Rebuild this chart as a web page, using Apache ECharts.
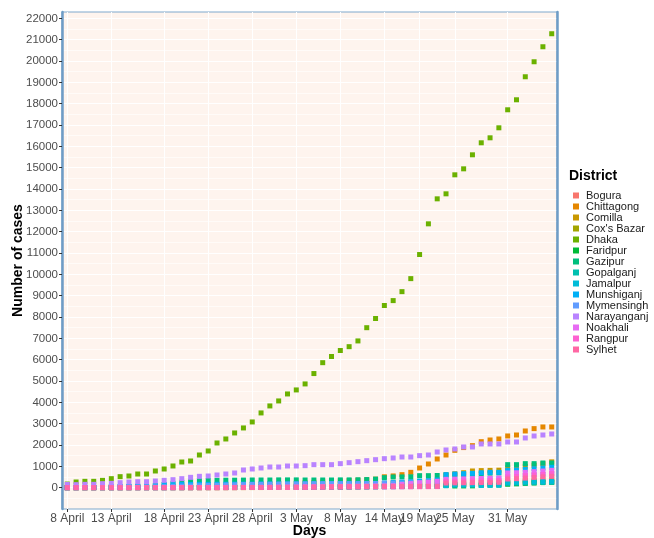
<!DOCTYPE html>
<html><head><meta charset="utf-8">
<script src="https://cdn.jsdelivr.net/npm/echarts@6/dist/echarts.min.js"></script>
<style>html,body{margin:0;padding:0;background:#fff}#c{width:654px;height:538px}</style>
</head><body><div id="c"></div>
<script>
// ---- data ----
const districts = ['Bogura','Chittagong','Comilla',"Cox's Bazar",'Dhaka','Faridpur','Gazipur','Gopalganj','Jamalpur','Munshiganj','Mymensingh','Narayanganj','Noakhali','Rangpur','Sylhet'];
const xTickIdx = [0,5,11,16,21,26,31,36,40,44,50];
const xTickLabels = ['8 April','13 April','18 April','23 April','28 April','3 May','8 May','14 May','19 May','25 May','31 May'];
const yTicks = [0,1000,2000,3000,4000,5000,6000,7000,8000,9000,10000,11000,12000,13000,14000,15000,16000,17000,18000,19000,20000,21000,22000];

const bogura = [0,0,0,0,0,0,0,0,1,1, 1,1,2,2,3,3,5,5,6,8, 8,10,12,15,18,20,25,30,35,40, 45,50,55,60,65,70,80,90,100,110, 120,120,125, 140,150,160,170,180,190,200, 230,240,250,260,270,280];
const chittagong = [10,12,14,15,20,25,30,35,40,45, 50,55,60,70,80,90,100,110,120,130, 140,150,160,175,190,200,215,230,250,270, 290,310,330,350,370,400,510,550,610,719, 922,1110,1345,1532,1751,1880,1970,2157,2235,2283, 2424,2470,2658,2768,2846,2846];
const comilla = [0,0,1,1,2,3,4,5,6,8, 10,12,14,16,18,20,25,30,35,40, 45,50,55,60,70,80,90,100,110,120, 130,140,150,160,170,180,200,220,240,260, 280,300,330, 600,650,700,782,800,810,820, 930,960,1000,1050,1120,1210];
const coxsBazar = [0,0,0,0,0,0,0,0,0,0, 1,1,1,1,1,2,2,2,3,3, 4,5,6,8,10,12,14,16,18,20, 25,30,35,40,45,50,60,70,80,90, 100,110,120,140,160,180,200,220,240,260, 300,320,340,360,380,400];
const dhaka = [170,267,297,297,343,422,516,547,641,641, 782,876,1017,1204,1251,1532,1720,2095,2283,2565, 2800,3081,3504,3832,4066,4394,4582,4864,5350,5860, 6150,6430,6610,6880,7500,7930,8540,8770,9190,9800, 10930,12369,13541,13776,14667,14948,15605,16168,16402,16871, 17716,18185,19264,19967,20671,21281];
const faridpur = [0,0,0,0,0,0,0,0,0,0, 1,1,1,2,2,3,3,4,5,6, 8,10,12,14,16,18,20,22,25,28, 30,32,35,38,40,45,50,52,55,58, 60,62,65, 100,80,82,85,120,125,130, 160,180,200,220,240,250];
const gazipur = [5,8,10,15,20,30,40,50,60,80,100, 150,203,250,297,328,340,344,350,350,355, 360,360,360,365,365,365,360,360,360,360, 365,365,370,380,400,469,500,505,510,563, 563,570,590,600,610,630,650,680,690, 1079,1079,1126,1126,1157,1157];
const gopalganj = [0,0,0,0,0,1,1,1,2,2, 3,3,4,5,6,8,10,12,14,16, 18,20,22,24,26,28,30,32,34,36, 38,40,42,44,46,48,50,52,54,56, 58,60,62, 100,130,130,135,115,120,125, 200,210,220,230,240,250];
const jamalpur = [0,0,0,0,0,0,0,1,1,1, 2,2,3,3,4,5,6,8,10,12, 14,16,18,20,22,24,26,28,30,32, 34,36,38,40,42,44,46,48,50,52, 54,56,58, 94,125,125,130,110,115,120, 250,262,275,285,290,297];
const munshiganj = [10,15,20,25,30,40,50,60,70,80,90, 140,145,150,150,155,155,160,160,165,165,165,170,170,170,175,175, 175,180,180,180,185,185,185,190,190, 220,240,260,280,310,330,360, 610,641,657,673,700,719,719, 813,830,860,890,920,953];
const mymensingh = [5,5,8,10,12,15,20,25,30,35, 40,50,60,70,80,90,100,110,120,130, 140,150,155,160,165,170,175, 180,185,188,188,190,190,192,195,195, 200,210,220,230,240,250,260, 380,390,400,410,420,430,440, 550,570,590,610,630,650];
const narayanganj = [150,141,156,156,188,203,234,266,281,281, 313,344,375,422,485,532,547,594,641,688, 829,876,923,969,969,1016,1016,1032,1079,1079, 1079,1126,1172,1219,1266,1313,1360,1392,1438,1438, 1501,1532,1673,1767,1814,1908,1908,2049,2049,2049, 2143,2143,2330,2423,2470,2517];
const noakhali = [0,0,0,0,0,0,0,0,1,1, 2,2,3,4,5,6,8,10,12,14, 16,18,20,22,25,28,30, 40,45,50,55,60,65,70,75,80,85,90, 150,190,230,260,297, 391,400,410,420,430,440,450, 688,700,720,750,780,813];
const rangpur = [0,0,0,0,0,0,0,0,0,0, 1,1,1,2,2,3,3,4,5,6, 7,8,9,10,12,14,16,18,20,22, 24,26,28,30,32,34,36,38,40,42, 45,48,50, 300,305,310,315,320,330,340, 501,520,560,590,620,657];
const sylhet = [0,0,0,0,0,0,0,0,0,0, 0,0,0,0,0,0,0,0,0,0, 5,8,10,12,15,18,20,25,30,35, 40,45,50,52,55,58,60,60,62,62, 63,63,63, 219,225,230,235,240,245,250, 407,420,450,480,510,532];

const seriesValues = [bogura, chittagong, comilla, coxsBazar, dhaka, faridpur, gazipur, gopalganj, jamalpur, munshiganj, mymensingh, narayanganj, noakhali, rangpur, sylhet];
const palette = ['#F8766D','#E58700','#C99800','#A3A500','#6BB100','#00BA38','#00BF7D','#00C0AF','#00BCD8','#00B0F6','#619CFF','#B983FF','#E76BF3','#FD61D1','#FF67A4'];

// ---- chart ----
const FONT = '"Liberation Sans", Arial, Helvetica, sans-serif';
const chart = echarts.init(document.getElementById('c'), null, {renderer: 'canvas'});
const minorTicks = yTicks.map(v => v - 500).filter(v => v > -1000 && v < 22300);
const borderBlue = '#7FA8CC';

chart.setOption({
  animation: false,
  backgroundColor: '#ffffff',
  textStyle: {fontFamily: FONT},
  grid: {left: 62, right: 97, top: 12, bottom: 29, show: true, backgroundColor: '#FEF4EE', borderColor: borderBlue, borderWidth: 1, containLabel: false, outerBoundsMode: 'none'},
  xAxis: {
    type: 'value', min: -0.6, max: 55.6,
    name: 'Days', nameLocation: 'middle', nameGap: 15, nameMoveOverlap: false,
    nameTextStyle: {fontFamily: FONT, fontSize: 14, fontWeight: 'bold', color: '#000'},
    axisLine: {show: false, onZero: false},
    axisTick: {show: true, length: 3, lineStyle: {color: '#333333', width: 1}, customValues: xTickIdx},
    axisLabel: {show: true, margin: 4, color: '#4D4D4D', fontSize: 12, fontFamily: FONT, customValues: xTickIdx,
      formatter: v => { const k = xTickIdx.indexOf(Math.round(v)); return k >= 0 ? xTickLabels[k] : ''; }},
    splitLine: {show: true, lineStyle: {color: '#FFFFFF', width: 1}},
    minorSplitLine: {show: false}
  },
  yAxis: [{
    type: 'value', min: -1000, max: 22300, position: 'left',
    name: 'Number of cases', nameLocation: 'middle', nameGap: 37, nameRotate: 90, nameMoveOverlap: false,
    nameTextStyle: {fontFamily: FONT, fontSize: 14, fontWeight: 'bold', color: '#000'},
    axisLine: {show: true, onZero: false, lineStyle: {color: '#6F9DC6', width: 2.5}},
    axisTick: {show: true, length: 3, lineStyle: {color: '#333333', width: 1}, customValues: yTicks},
    axisLabel: {show: true, margin: 4, color: '#4D4D4D', fontSize: 11.5, fontFamily: FONT, customValues: yTicks,
      formatter: v => String(Math.round(v))},
    splitLine: {show: true, lineStyle: {color: '#FFFFFF', width: 1}}
  }, {
    type: 'value', min: -1000, max: 22300, position: 'right',
    axisLine: {show: true, onZero: false, lineStyle: {color: '#6F9DC6', width: 2.5}},
    axisTick: {show: false, customValues: minorTicks},
    axisLabel: {show: false},
    splitLine: {show: true, lineStyle: {color: '#FFFFFF', width: 0.6}}
  }],
  legend: {
    orient: 'vertical', left: 568, top: 185,
    itemWidth: 6, itemHeight: 6, itemGap: 0,
    icon: 'rect',
    data: districts,
    textStyle: {fontFamily: FONT, fontSize: 11, color: '#1A1A1A', lineHeight: 11, padding: [0, 0, 0, 2]},
    selectedMode: false
  },
  graphic: [{
    type: 'text', left: 569, top: 169,
    style: {text: 'District', font: 'bold 14px ' + FONT, fill: '#000'}
  }],
  series: districts.map((name, s) => ({
    name: name,
    type: 'scatter',
    symbol: 'rect',
    symbolSize: 5,
    xAxisIndex: 0, yAxisIndex: 0,
    itemStyle: {color: palette[s], opacity: 1},
    emphasis: {disabled: true},
    data: seriesValues[s].map((v, i) => [i, v])
  }))
});
</script></body></html>
